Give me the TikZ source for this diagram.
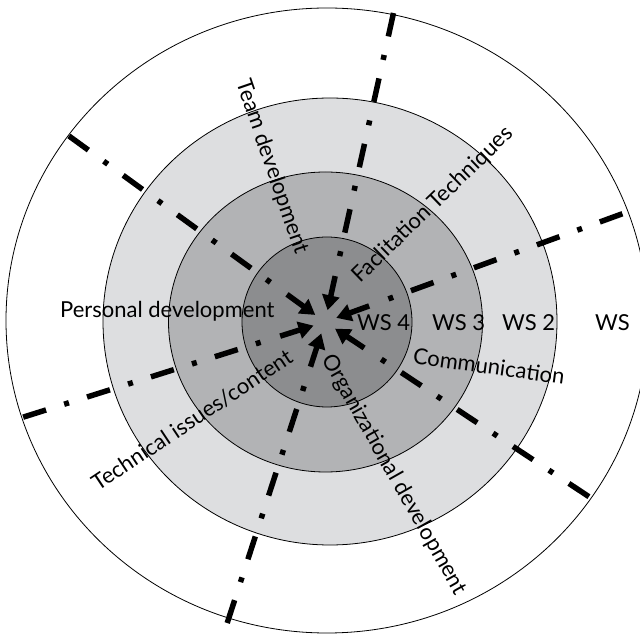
\documentclass[tikz,border=0pt]{standalone}
\usepackage{fontspec}
\setmainfont{Lato}
\usetikzlibrary{calc,arrows.meta}
\definecolor{ringA}{RGB}{221,222,224}
\definecolor{ringB}{RGB}{178,179,181}
\definecolor{ringC}{RGB}{140,141,143}
\begin{document}
\begin{tikzpicture}[x=1pt,y=1pt,
  ring/.style={draw=black,line width=0.8pt},
  spoke/.style={line width=5.5pt,dash pattern=on 5pt off 19pt on 24pt off 19pt},
  inarrow/.style={line width=5.5pt,-{Triangle[length=15pt,width=17pt]}},
  lbl/.style={font=\fontsize{22}{24}\selectfont,inner sep=0pt}]
\useasboundingbox (0,0) rectangle (640,635);
\clip (0,0) rectangle (640,635);
\fill[white] (0,0) rectangle (640,635);
% nested workshop rings
\draw[ring,fill=white] (327,314.5) ellipse [x radius=321,y radius=312.5];
\draw[ring,fill=ringA] (330,313.5) ellipse [x radius=227,y radius=223.5];
\draw[ring,fill=ringB] (325.5,313) ellipse [x radius=157,y radius=150];
\draw[ring,fill=ringC] (327,313) circle [radius=85];
% hub where all themes meet
\coordinate (c) at (325,313);
% dash-dot spokes with an arrow pointing at the hub
\foreach \a [count=\i] in {144,77.5,20,-33.5,252,197.5}{
  \coordinate (s\i) at ($(c)+(\a:67.5)$);
  \coordinate (e\i) at ($(c)+(\a:316.5)$);
  \coordinate (t\i) at ($(c)+(\a:47)$);
  \coordinate (h\i) at ($(c)+(\a:12)$);
  \draw[spoke] (s\i) -- (e\i);
  \draw[inarrow] (t\i) -- (h\i);
}
% labels
\node[lbl,anchor=base west] (pd) at (60,317) {Personal development};
\node[lbl,anchor=base west] (ws4) at (357,304) {WS 4};
\node[lbl,anchor=base west] (ws3) at (432,304) {WS 3};
\node[lbl,anchor=base west] (ws2) at (502,304) {WS 2};
\node[lbl,anchor=base west] (ws1) at (595,304) {WS};
\node[lbl,rotate=-71] (td) at (272,468) {Team development};
\node[lbl,rotate=44] (ft) at (433,430) {Faclitation Techniques};
\node[lbl,rotate=33.6] (ti) at (192,215) {Technical issues/content};
\node[lbl,rotate=-60.5] (od) at (394,160) {Organizational development};
\node[lbl,rotate=-8] (cm) at (489,269) {Communication};
\end{tikzpicture}
\end{document}
